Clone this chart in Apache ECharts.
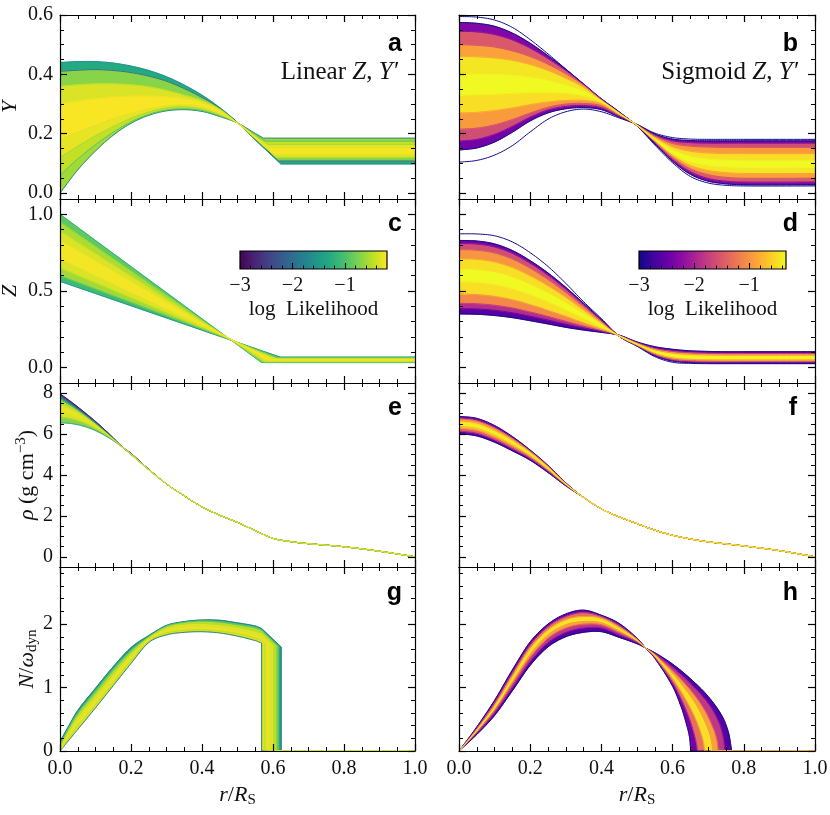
<!DOCTYPE html>
<html><head><meta charset="utf-8">
<script src="https://cdn.jsdelivr.net/npm/echarts@6/dist/echarts.min.js"></script>
<style>html,body{margin:0;padding:0;background:#fff}#c{width:830px;height:815px}</style>
</head><body><div id="c"></div>
<script>
// ---------------- tick labels ----------------
const xTicks = [0, 0.2, 0.4, 0.6, 0.8, 1.0];
const yTicksY = [0, 0.2, 0.4, 0.6];
const yTicksZ = [0, 0.5, 1.0];
const yTicksRho = [0, 2, 4, 6, 8];
const yTicksN = [0, 1, 2];
const cbTicks = [-3, -2, -1];

// ---------------- panel a : Y, linear ----------------
const aR = [0, 0.05, 0.1, 0.15, 0.2, 0.25, 0.3, 0.35, 0.4, 0.45, 0.5, 0.55];
const aY = [
  [0.000,0.078,0.142,0.195,0.235,0.262,0.277,0.281,0.275,0.258,0.236,0.201],
  [0.060,0.115,0.163,0.205,0.240,0.265,0.280,0.284,0.278,0.260,0.236,0.197],
  [0.120,0.158,0.193,0.224,0.252,0.273,0.287,0.291,0.283,0.263,0.236,0.194],
  [0.180,0.205,0.228,0.250,0.268,0.283,0.294,0.298,0.290,0.267,0.236,0.190],
  [0.240,0.256,0.270,0.283,0.294,0.302,0.307,0.307,0.298,0.272,0.236,0.188],
  [0.300,0.310,0.318,0.324,0.327,0.327,0.324,0.318,0.305,0.278,0.236,0.185],
  [0.360,0.365,0.368,0.368,0.365,0.358,0.346,0.330,0.312,0.283,0.236,0.183],
  [0.410,0.414,0.416,0.413,0.406,0.394,0.377,0.352,0.322,0.286,0.237,0.181],
  [0.440,0.443,0.443,0.438,0.428,0.413,0.392,0.364,0.330,0.288,0.238,0.179]
];
const aKinkR = [0.573, 0.579, 0.585, 0.591, 0.597, 0.603, 0.609, 0.616, 0.622];
const aFlatY = [0.185, 0.175, 0.164, 0.153, 0.142, 0.131, 0.120, 0.108, 0.098];
const aLogL = [-1.7, -1.0, -0.6, -0.35, -0.25, -0.3, -0.5, -2.0, -1.6];
const aBandLogL = [-0.6, -0.45, -0.3, -0.22, -0.22, -0.35, -0.7, -1.3];

// ---------------- panel b : Y, sigmoid ----------------
const bR = [0, 0.05, 0.1, 0.15, 0.2, 0.25, 0.3, 0.35, 0.4, 0.45, 0.5, 0.55, 0.6, 0.65, 0.7, 0.75, 0.8, 1.0];
const bY = [
  [0.104,0.110,0.128,0.160,0.206,0.249,0.274,0.283,0.274,0.253,0.231,0.202,0.187,0.182,0.181,0.181,0.181,0.181],
  [0.145,0.152,0.172,0.205,0.243,0.270,0.284,0.288,0.281,0.256,0.231,0.199,0.182,0.177,0.176,0.176,0.176,0.176],
  [0.175,0.181,0.198,0.225,0.256,0.280,0.292,0.295,0.287,0.259,0.230,0.196,0.176,0.170,0.168,0.168,0.168,0.168],
  [0.215,0.219,0.230,0.248,0.270,0.289,0.300,0.302,0.294,0.262,0.230,0.192,0.167,0.158,0.155,0.154,0.154,0.154],
  [0.270,0.272,0.278,0.287,0.298,0.307,0.312,0.312,0.301,0.265,0.229,0.188,0.156,0.141,0.135,0.133,0.133,0.133],
  [0.330,0.331,0.333,0.336,0.338,0.338,0.336,0.328,0.306,0.267,0.229,0.183,0.145,0.124,0.114,0.111,0.110,0.110],
  [0.400,0.400,0.399,0.396,0.389,0.378,0.362,0.342,0.310,0.269,0.228,0.179,0.135,0.107,0.094,0.089,0.087,0.087],
  [0.460,0.459,0.455,0.447,0.433,0.413,0.387,0.356,0.313,0.270,0.228,0.176,0.127,0.093,0.076,0.069,0.066,0.066],
  [0.500,0.498,0.492,0.479,0.460,0.434,0.402,0.364,0.315,0.271,0.227,0.173,0.120,0.082,0.062,0.053,0.050,0.050],
  [0.545,0.543,0.534,0.516,0.488,0.453,0.413,0.366,0.316,0.272,0.227,0.169,0.113,0.072,0.049,0.040,0.037,0.037],
  [0.575,0.572,0.562,0.539,0.505,0.463,0.417,0.367,0.317,0.273,0.226,0.166,0.107,0.063,0.040,0.031,0.028,0.028],
  [0.595,0.593,0.583,0.558,0.517,0.469,0.418,0.368,0.318,0.274,0.226,0.162,0.102,0.056,0.034,0.026,0.024,0.024]
];
const bLogL = [-3, -3, -2.3, -1.6, -0.9, -0.4, -0.35, -0.9, -1.6, -2.3, -3, -3];
const bBandLogL = [null, -2.4, -1.6, -0.95, -0.5, -0.3, -0.45, -0.9, -1.5, -2.3, null];

// ---------------- panel c : Z, linear ----------------
const cZ0 = [0.563, 0.60, 0.65, 0.71, 0.77, 0.83, 0.89, 0.95, 1.0];
const cKinkR = [0.620, 0.614, 0.607, 0.600, 0.592, 0.585, 0.578, 0.572, 0.568];
const cFlatZ = [0.069, 0.065, 0.060, 0.055, 0.050, 0.045, 0.040, 0.036, 0.033];
const cLogL = [-1.5, -0.9, -0.5, -0.3, -0.25, -0.3, -0.45, -0.7, -1.2];
const cBandLogL = [-1.1, -0.6, -0.35, -0.25, -0.25, -0.35, -0.55, -0.9];

// ---------------- panel d : Z, sigmoid ----------------
const dR = [0, 0.05, 0.1, 0.15, 0.2, 0.25, 0.3, 0.35, 0.4, 0.45, 0.5, 0.55, 0.6, 0.65, 0.7, 0.75, 0.8, 1.0];
const dZ = [
  [0.350,0.348,0.340,0.326,0.306,0.285,0.263,0.245,0.230,0.212,0.168,0.137,0.120,0.110,0.106,0.104,0.104,0.104],
  [0.385,0.383,0.374,0.358,0.335,0.310,0.283,0.259,0.236,0.211,0.165,0.131,0.113,0.104,0.100,0.099,0.099,0.099],
  [0.420,0.417,0.407,0.389,0.363,0.334,0.302,0.271,0.241,0.210,0.162,0.125,0.106,0.097,0.093,0.092,0.092,0.092],
  [0.480,0.477,0.465,0.443,0.411,0.374,0.334,0.292,0.251,0.209,0.159,0.117,0.096,0.087,0.083,0.082,0.082,0.082],
  [0.560,0.556,0.542,0.515,0.476,0.430,0.378,0.322,0.266,0.208,0.155,0.109,0.085,0.075,0.072,0.071,0.071,0.071],
  [0.640,0.636,0.620,0.588,0.540,0.484,0.420,0.350,0.279,0.207,0.151,0.101,0.074,0.064,0.061,0.060,0.060,0.060],
  [0.710,0.706,0.689,0.653,0.599,0.534,0.459,0.376,0.292,0.206,0.148,0.094,0.064,0.054,0.051,0.050,0.050,0.050],
  [0.770,0.766,0.748,0.708,0.648,0.575,0.490,0.397,0.302,0.206,0.145,0.087,0.055,0.045,0.042,0.041,0.041,0.041],
  [0.810,0.806,0.787,0.745,0.681,0.603,0.512,0.412,0.309,0.205,0.143,0.082,0.048,0.038,0.035,0.034,0.034,0.034],
  [0.830,0.826,0.807,0.764,0.698,0.618,0.524,0.420,0.313,0.205,0.142,0.078,0.043,0.033,0.030,0.029,0.029,0.029],
  [0.873,0.872,0.860,0.820,0.750,0.660,0.550,0.430,0.320,0.205,0.140,0.072,0.035,0.028,0.026,0.026,0.026,0.026]
];
const dLogL = [-3, -2.5, -1.8, -1.0, -0.4, -0.35, -0.9, -1.6, -2.3, -3, -3];
const dBandLogL = [-2.6, -1.9, -1.1, -0.5, -0.3, -0.5, -1.0, -1.6, -2.4, null];

// ---------------- panel e : rho, linear ----------------
const eRHead = [0, 0.025, 0.05, 0.075, 0.1, 0.125, 0.15, 0.175, 0.2, 0.25];
const eRho = [
  [6.55, 6.53, 6.46, 6.34, 6.17, 5.95, 5.68, 5.36, 5.00, 4.25],
  [6.85, 6.78, 6.66, 6.49, 6.27, 6.01, 5.71, 5.37, 5.01, 4.26],
  [7.15, 7.03, 6.86, 6.64, 6.38, 6.07, 5.73, 5.37, 5.02, 4.26],
  [7.45, 7.27, 7.04, 6.77, 6.46, 6.12, 5.76, 5.38, 5.03, 4.27],
  [7.70, 7.45, 7.17, 6.86, 6.52, 6.16, 5.78, 5.38, 5.04, 4.27],
  [7.85, 7.56, 7.25, 6.92, 6.57, 6.19, 5.80, 5.38, 5.05, 4.28],
  [7.98, 7.66, 7.33, 6.98, 6.62, 6.23, 5.82, 5.38, 5.06, 4.28]
];
const eRTail = [0.3, 0.35, 0.4, 0.45, 0.5, 0.55, 0.6, 0.65, 0.7, 0.8, 0.9, 1.0];
const eRhoTail = [3.56, 2.98, 2.44, 2.03, 1.68, 1.28, 0.90, 0.74, 0.64, 0.49, 0.27, 0.00];
const eLogL = [-1.4, -0.6, -0.3, -0.4, -1.2, -2.2, -3.0];
const eBandLogL = [-0.7, -0.35, -0.3, -0.5, -1.4, -2.4];

// ---------------- panel f : rho, sigmoid ----------------
const fRHead = [0, 0.05, 0.1, 0.15, 0.2, 0.25, 0.3];
const fRho = [
  [6.02, 5.91, 5.60, 5.18, 4.72, 4.12, 3.47],
  [6.15, 6.04, 5.72, 5.29, 4.81, 4.19, 3.50],
  [6.30, 6.19, 5.86, 5.42, 4.91, 4.26, 3.53],
  [6.45, 6.34, 6.00, 5.54, 5.00, 4.32, 3.55],
  [6.60, 6.49, 6.14, 5.66, 5.08, 4.37, 3.57],
  [6.75, 6.64, 6.29, 5.78, 5.16, 4.43, 3.60],
  [6.87, 6.77, 6.42, 5.88, 5.22, 4.47, 3.62]
];
const fRTail = [0.35, 0.4, 0.45, 0.5, 0.55, 0.6, 0.65, 0.7, 0.8, 0.9, 1.0];
const fRhoTail = [2.90, 2.34, 1.95, 1.62, 1.30, 1.05, 0.87, 0.73, 0.53, 0.30, 0.00];
const fLogL = [-3, -2.0, -1.0, -0.4, -0.5, -1.4, -3];
const fBandLogL = [-2.5, -1.4, -0.7, -0.4, -0.9, -2.2];

// ---------------- panel g : N, linear ----------------
const gR = [0, 0.025, 0.05, 0.1, 0.15, 0.2, 0.25, 0.3, 0.35, 0.4, 0.45, 0.5, 0.55, 0.568];
const gN = [
  [0.00, 0.17, 0.34, 0.68, 1.03, 1.38, 1.71, 1.83, 1.87, 1.88, 1.86, 1.81, 1.74, 1.70],
  [0.00, 0.21, 0.40, 0.73, 1.08, 1.43, 1.73, 1.86, 1.90, 1.91, 1.89, 1.85, 1.78, 1.745],
  [0.02, 0.25, 0.46, 0.79, 1.14, 1.47, 1.75, 1.89, 1.94, 1.95, 1.93, 1.89, 1.83, 1.79],
  [0.04, 0.29, 0.51, 0.85, 1.19, 1.51, 1.77, 1.92, 1.98, 1.99, 1.97, 1.93, 1.87, 1.835],
  [0.07, 0.33, 0.56, 0.90, 1.24, 1.55, 1.79, 1.95, 2.01, 2.03, 2.01, 1.97, 1.92, 1.88],
  [0.10, 0.37, 0.60, 0.95, 1.29, 1.59, 1.80, 1.97, 2.03, 2.05, 2.04, 2.00, 1.95, 1.91],
  [0.15, 0.40, 0.64, 0.99, 1.33, 1.63, 1.82, 1.98, 2.04, 2.065, 2.06, 2.02, 1.97, 1.93]
];
const gCzR = [0.568, 0.578, 0.588, 0.598, 0.608, 0.616, 0.623];
const gCzN = [1.70, 1.69, 1.68, 1.67, 1.66, 1.65, 1.64];
const gLogL = [-1.8, -0.5, -0.3, -0.3, -0.5, -1.0, -1.9];
const gBandLogL = [-0.35, -0.3, -0.35, -0.5, -0.8, -1.4];

// ---------------- panel h : N, sigmoid ----------------
const hR = [0, 0.05, 0.1, 0.15, 0.2, 0.25, 0.3, 0.35, 0.4, 0.45, 0.5, 0.525, 0.55, 0.6];
const hN = [
  [0, 0.26, 0.56, 0.95, 1.35, 1.64, 1.80, 1.87, 1.88, 1.79, 1.69, 1.62, 1.55, 1.37],
  [0, 0.28, 0.60, 1.00, 1.41, 1.71, 1.87, 1.94, 1.94, 1.83, 1.71, 1.62, 1.54, 1.32],
  [0, 0.30, 0.64, 1.06, 1.48, 1.78, 1.94, 2.00, 1.99, 1.87, 1.73, 1.62, 1.52, 1.26],
  [0, 0.32, 0.68, 1.12, 1.55, 1.85, 2.01, 2.06, 2.04, 1.91, 1.74, 1.62, 1.51, 1.20],
  [0, 0.34, 0.72, 1.18, 1.62, 1.91, 2.07, 2.12, 2.09, 1.95, 1.76, 1.62, 1.49, 1.14],
  [0, 0.36, 0.76, 1.23, 1.67, 1.96, 2.12, 2.18, 2.12, 1.98, 1.77, 1.62, 1.47, 1.08],
  [0, 0.38, 0.80, 1.28, 1.72, 2.00, 2.16, 2.22, 2.14, 2.01, 1.78, 1.62, 1.46, 1.02]
];
const hTail = [
  [[0.65,1.14],[0.7,0.86],[0.74,0.54],[0.758,0.27],[0.766,0]],
  [[0.65,1.06],[0.7,0.75],[0.73,0.45],[0.742,0.22],[0.747,0]],
  [[0.65,0.96],[0.69,0.64],[0.715,0.34],[0.725,0.15],[0.728,0]],
  [[0.65,0.84],[0.68,0.55],[0.70,0.28],[0.707,0.12],[0.709,0]],
  [[0.64,0.78],[0.665,0.50],[0.682,0.24],[0.688,0.10],[0.690,0]],
  [[0.63,0.75],[0.65,0.47],[0.663,0.22],[0.668,0.09],[0.670,0]],
  [[0.625,0.68],[0.64,0.40],[0.648,0.20],[0.651,0]]
];
const hLogL = [-3, -2.2, -1.4, -0.4, -1.0, -2.0, -3];
const hBandLogL = [-2.6, -1.8, -0.9, -0.5, -1.3, -2.4];

// ---------------- colour maps ----------------
const viridis = ['#440154','#482475','#414487','#355f8d','#2a788e','#21918c','#22a884','#44bf70','#7ad151','#bddf26','#fde725'];
const plasma = ['#0d0887','#41049d','#6a00a8','#8f0da4','#b12a90','#cc4778','#e16462','#f2844b','#fca636','#fcce25','#f0f921'];
const cbRangeLeft = [-3, -0.2];
const cbRangeRight = [-3, -0.33];

function hexRgb(h){return [parseInt(h.slice(1,3),16),parseInt(h.slice(3,5),16),parseInt(h.slice(5,7),16)];}
function cmapColor(stops, range, L){
  let t = (L - range[0]) / (range[1] - range[0]);
  t = Math.max(0, Math.min(1, t));
  const n = stops.length - 1, x = t * n, i = Math.min(n - 1, Math.floor(x)), f = x - i;
  const c0 = hexRgb(stops[i]), c1 = hexRgb(stops[i + 1]);
  return 'rgb(' + [0,1,2].map(j => Math.round(c0[j] + (c1[j] - c0[j]) * f)).join(',') + ')';
}

// ---------------- build curves (point lists) ----------------
const aCurves = aY.map((ys, k) => aR.map((r, i) => [r, ys[i]]).concat([[aKinkR[k], aFlatY[k]], [1, aFlatY[k]]]));
const bCurves = bY.map(ys => bR.map((r, i) => [r, ys[i]]));
const cCurves = cZ0.map((z, k) => [[0, z], [cKinkR[k], cFlatZ[k]], [1, cFlatZ[k]]]);
const dCurves = dZ.map(ys => dR.map((r, i) => [r, ys[i]]));
const eCurves = eRho.map(h => eRHead.map((r, i) => [r, h[i]]).concat(eRTail.map((r, i) => [r, eRhoTail[i]])));
const fCurves = fRho.map(h => fRHead.map((r, i) => [r, h[i]]).concat(fRTail.map((r, i) => [r, fRhoTail[i]])));
const gCurves = gN.map((ns, k) => {
  const pts = gR.map((r, i) => [r, ns[i]]);
  if (gCzR[k] > gR[gR.length - 1]) pts.push([gCzR[k], gCzN[k]]);
  pts.push([gCzR[k], 0], [1, 0]);
  return pts;
});
const hCurves = hN.map((ns, k) => hR.map((r, i) => [r, ns[i]]).concat(hTail[k]).concat([[1, 0]]));

// smoothN: how many leading points of a curve are drawn as a smooth curve (rest straight)
const panels = [
  {curves: aCurves, L: aLogL, B: aBandLogL, cm: viridis, range: cbRangeLeft, smoothN: c => aR.length},
  {curves: bCurves, L: bLogL, B: bBandLogL, cm: plasma, range: cbRangeRight, smoothN: c => c.length},
  {curves: cCurves, L: cLogL, B: cBandLogL, cm: viridis, range: cbRangeLeft, smoothN: c => 0},
  {curves: dCurves, L: dLogL, B: dBandLogL, cm: plasma, range: cbRangeRight, smoothN: c => c.length},
  {curves: eCurves, L: eLogL, B: eBandLogL, cm: viridis, range: cbRangeLeft, smoothN: c => c.length},
  {curves: fCurves, L: fLogL, B: fBandLogL, cm: plasma, range: cbRangeRight, smoothN: c => c.length},
  {curves: gCurves, L: gLogL, B: gBandLogL, cm: viridis, range: cbRangeLeft, smoothN: c => gR.length},
  {curves: hCurves, L: hLogL, B: hBandLogL, cm: plasma, range: cbRangeRight, smoothN: c => c.length - 1}
];

// Render-time smoothing (like line smooth): cubic Hermite through the projected points
function renderPath(api, pts, nSmooth){
  const px = pts.map(q => api.coord(q));
  const out = [px[0]];
  const m = Math.min(nSmooth, px.length);
  const slope = i => {
    const a = px[Math.max(0, i - 1)], b = px[Math.min(m - 1, i + 1)];
    const dx = b[0] - a[0];
    return Math.abs(dx) < 1e-9 ? 0 : (b[1] - a[1]) / dx;
  };
  for (let i = 0; i < px.length - 1; i++) {
    const p0 = px[i], p1 = px[i + 1];
    if (i < m - 1 && p1[0] - p0[0] > 1e-6) {
      const dx = p1[0] - p0[0], s0 = slope(i), s1 = slope(i + 1);
      const c1 = [p0[0] + dx / 3, p0[1] + s0 * dx / 3], c2 = [p1[0] - dx / 3, p1[1] - s1 * dx / 3];
      const N = 10;
      for (let k = 1; k <= N; k++) {
        const t = k / N, u = 1 - t;
        out.push([
          u*u*u*p0[0] + 3*u*u*t*c1[0] + 3*u*t*t*c2[0] + t*t*t*p1[0],
          u*u*u*p0[1] + 3*u*u*t*c1[1] + 3*u*t*t*c2[1] + t*t*t*p1[1]
        ]);
      }
    } else {
      out.push(p1);
    }
  }
  return out;
}

// ---------------- layout / styles ----------------
const SERIF = '"Liberation Serif", "DejaVu Serif", serif';
const SANS = '"Liberation Sans", Arial, sans-serif';
const INK = '#111';
const colLeft = [60, 459], colWidth = [355, 356];
const rowTop = [15, 199, 383, 567], rowH = 184;

function minorVals(min, max, step, majors){
  const out = [];
  for (let k = Math.ceil(min / step - 1e-9); k * step <= max + 1e-9; k++) {
    const v = +(k * step).toFixed(6);
    if (v <= min + 1e-9 || v >= max - 1e-9) continue;
    if (majors.some(m => Math.abs(m - v) < 1e-9)) continue;
    out.push(v);
  }
  return out;
}
const nameRich = {
  i: {fontFamily: SERIF, fontStyle: 'italic', fontSize: 22, lineHeight: 26, color: INK},
  n: {fontFamily: SERIF, fontSize: 22, lineHeight: 26, color: INK},
  s: {fontFamily: SERIF, fontSize: 15, lineHeight: 14, verticalAlign: 'top', color: INK},
  d: {fontFamily: SERIF, fontSize: 15, lineHeight: 14, verticalAlign: 'bottom', color: INK}
};
const rows = [
  {min: -0.02, max: 0.6, ticks: yTicksY, step: 0.05, fmt: v => v.toFixed(1), name: '{i|Y}', gap: 37},
  {min: -0.1, max: 1.1, ticks: yTicksZ, step: 0.1, fmt: v => v.toFixed(1), name: '{i|Z}', gap: 37},
  {min: -0.5, max: 8.5, ticks: yTicksRho, step: 0.5, fmt: v => String(v), name: '{i|ρ}{n| (g cm}{s|−3}{n|)}', gap: 20},
  {min: 0, max: 2.9, ticks: yTicksN, step: 0.2, fmt: v => String(v), name: '{i|N}{n|/}{i|ω}{d|dyn}', gap: 20}
];
const xMinor = minorVals(0, 1, 0.05, xTicks);
const lineSt = {color: '#000', width: 1.2};

const grids = [], xAxes = [], yAxes = [], series = [];
function axisBase(extra){
  return Object.assign({type: 'value', splitLine: {show: false}, z: 5, nameMoveOverlap: false}, extra);
}
for (let p = 0; p < 8; p++) {
  const row = Math.floor(p / 2), col = p % 2, R = rows[row];
  grids.push({left: colLeft[col], top: rowTop[row], width: colWidth[col], height: rowH, outerBoundsMode: 'none', containLabel: false});
  const yMinor = minorVals(R.min, R.max, R.step, R.ticks);
  const showX = row === 3;
  xAxes.push(axisBase({gridIndex: p, min: 0, max: 1, position: 'bottom',
    axisLine: {show: true, onZero: false, lineStyle: lineSt},
    axisTick: {show: true, inside: true, length: 7, lineStyle: lineSt, customValues: xTicks},
    axisLabel: {show: showX, customValues: xTicks, formatter: v => v.toFixed(1), margin: 8, fontFamily: SERIF, fontSize: 20, color: INK},
    name: showX ? '{i|r}{n|/}{i|R}{d|S}' : '', nameLocation: 'middle', nameGap: 31, nameTextStyle: {rich: nameRich}}));
  xAxes.push(axisBase({gridIndex: p, min: 0, max: 1, position: 'bottom',
    axisLine: {show: false, onZero: false}, axisLabel: {show: false},
    axisTick: {show: true, inside: true, length: 4, lineStyle: {color: '#000', width: 1}, customValues: xMinor}}));
  xAxes.push(axisBase({gridIndex: p, min: 0, max: 1, position: 'top',
    axisLine: {show: true, onZero: false, lineStyle: lineSt}, axisLabel: {show: false},
    axisTick: {show: true, inside: true, length: 7, lineStyle: lineSt, customValues: xTicks}}));
  xAxes.push(axisBase({gridIndex: p, min: 0, max: 1, position: 'top',
    axisLine: {show: false, onZero: false}, axisLabel: {show: false},
    axisTick: {show: true, inside: true, length: 4, lineStyle: {color: '#000', width: 1}, customValues: xMinor}}));
  yAxes.push(axisBase({gridIndex: p, min: R.min, max: R.max, position: 'left',
    axisLine: {show: true, onZero: false, lineStyle: lineSt},
    axisTick: {show: true, inside: true, length: 7, lineStyle: lineSt, customValues: R.ticks},
    axisLabel: {show: col === 0, customValues: R.ticks, formatter: R.fmt, margin: 7, fontFamily: SERIF, fontSize: 20, color: INK},
    name: col === 0 ? R.name : '', nameLocation: 'middle', nameGap: R.gap, nameTextStyle: {rich: nameRich}}));
  yAxes.push(axisBase({gridIndex: p, min: R.min, max: R.max, position: 'left',
    axisLine: {show: false, onZero: false}, axisLabel: {show: false},
    axisTick: {show: true, inside: true, length: 4, lineStyle: {color: '#000', width: 1}, customValues: yMinor}}));
  yAxes.push(axisBase({gridIndex: p, min: R.min, max: R.max, position: 'right',
    axisLine: {show: true, onZero: false, lineStyle: lineSt}, axisLabel: {show: false},
    axisTick: {show: true, inside: true, length: 7, lineStyle: lineSt, customValues: R.ticks}}));
  yAxes.push(axisBase({gridIndex: p, min: R.min, max: R.max, position: 'right',
    axisLine: {show: false, onZero: false}, axisLabel: {show: false},
    axisTick: {show: true, inside: true, length: 4, lineStyle: {color: '#000', width: 1}, customValues: yMinor}}));

  const P = panels[p];
  const bands = [];
  P.B.forEach((L, b) => { if (L !== null) bands.push(b); });
  bands.sort((u, v) => P.B[u] - P.B[v]);
  series.push({
    type: 'custom', xAxisIndex: 4 * p, yAxisIndex: 4 * p, silent: true, animation: false, clip: true, z: 2,
    data: bands.map(b => P.curves[b][0]),
    renderItem: (params, api) => {
      const b = bands[params.dataIndex];
      const lo = P.curves[b], hi = P.curves[b + 1];
      const pts = renderPath(api, lo, P.smoothN(lo)).concat(renderPath(api, hi, P.smoothN(hi)).reverse());
      const c = cmapColor(P.cm, P.range, P.B[b]);
      return {type: 'polygon', shape: {points: pts}, style: {fill: c, stroke: c, lineWidth: 0.6}};
    }
  });
  const order = P.curves.map((c, k) => k).sort((u, v) => P.L[u] - P.L[v]);
  series.push({
    type: 'custom', xAxisIndex: 4 * p, yAxisIndex: 4 * p, silent: true, animation: false, clip: true, z: 3,
    data: order.map(k => P.curves[k][0]),
    renderItem: (params, api) => {
      const k = order[params.dataIndex];
      const cv = P.curves[k];
      return {type: 'polyline', shape: {points: renderPath(api, cv, P.smoothN(cv))},
        style: {fill: null, stroke: cmapColor(P.cm, P.range, P.L[k]), lineWidth: 1}};
    }
  });
}

// ---------------- colour bars ----------------
const cbDefs = [
  {left: 240, range: cbRangeLeft, cm: viridis},
  {left: 639, range: cbRangeRight, cm: plasma}
];
cbDefs.forEach((cb, j) => {
  const gi = 8 + j;
  grids.push({left: cb.left, top: 251, width: 147, height: 18, outerBoundsMode: 'none', containLabel: false});
  const cbMinor = minorVals(cb.range[0], cb.range[1], 0.2, cbTicks);
  const xi = xAxes.length;
  xAxes.push({type: 'value', gridIndex: gi, min: cb.range[0], max: cb.range[1], position: 'bottom', z: 10,
    splitLine: {show: false}, axisLine: {show: false, onZero: false}, nameMoveOverlap: false,
    axisTick: {show: true, inside: true, length: 6, lineStyle: {color: '#000', width: 1.1}, customValues: cbTicks},
    axisLabel: {show: true, customValues: cbTicks, formatter: v => '\u2212' + Math.abs(v), margin: 7, fontFamily: SERIF, fontSize: 20, color: INK},
    name: 'log  Likelihood', nameLocation: 'middle', nameGap: 30, nameTextStyle: {fontFamily: SERIF, fontSize: 21, color: INK}});
  xAxes.push({type: 'value', gridIndex: gi, min: cb.range[0], max: cb.range[1], position: 'bottom', z: 10,
    splitLine: {show: false}, axisLine: {show: false, onZero: false}, axisLabel: {show: false},
    axisTick: {show: true, inside: true, length: 3.5, lineStyle: {color: '#000', width: 1}, customValues: cbMinor}});
  const yi = yAxes.length;
  yAxes.push({type: 'value', gridIndex: gi, min: 0, max: 1, show: false});
  const stops = cb.cm.map((c, i) => ({offset: i / (cb.cm.length - 1), color: c}));
  series.push({
    type: 'custom', xAxisIndex: xi, yAxisIndex: yi, silent: true, animation: false, z: 2,
    data: [[cb.range[0], 0]],
    renderItem: (params, api) => {
      const p0 = api.coord([cb.range[0], 1]), p1 = api.coord([cb.range[1], 0]);
      return {type: 'rect', shape: {x: p0[0], y: p0[1], width: p1[0] - p0[0], height: p1[1] - p0[1]},
        style: {fill: new echarts.graphic.LinearGradient(0, 0, 1, 0, stops), stroke: '#000', lineWidth: 1.2}};
    }
  });
});

// ---------------- annotations ----------------
const letters = [['a',402,44],['b',798,44],['c',402,224],['d',798,224],['e',402,408],['f',797,408],['g',402,593],['h',798,593]];
const graphic = letters.map(([t, x, y]) => ({type: 'text', x, y, z: 20, silent: true,
  style: {text: t, font: 'bold 25px ' + SANS, fill: '#000', align: 'right', verticalAlign: 'middle'}}));
const labRich = {i: {fontFamily: SERIF, fontStyle: 'italic', fontSize: 25, color: INK}};
graphic.push({type: 'text', x: 398, y: 72, z: 20, silent: true,
  style: {text: 'Linear {i|Z}, {i|Y\u2032}', font: '25px ' + SERIF, fill: INK, align: 'right', verticalAlign: 'middle', rich: labRich}});
graphic.push({type: 'text', x: 798, y: 72, z: 20, silent: true,
  style: {text: 'Sigmoid {i|Z}, {i|Y\u2032}', font: '25px ' + SERIF, fill: INK, align: 'right', verticalAlign: 'middle', rich: labRich}});

const chart = echarts.init(document.getElementById('c'), null, {renderer: 'canvas'});
chart.setOption({
  backgroundColor: '#fff',
  animation: false,
  grid: grids, xAxis: xAxes, yAxis: yAxes, series: series, graphic: graphic
});
</script></body></html>
